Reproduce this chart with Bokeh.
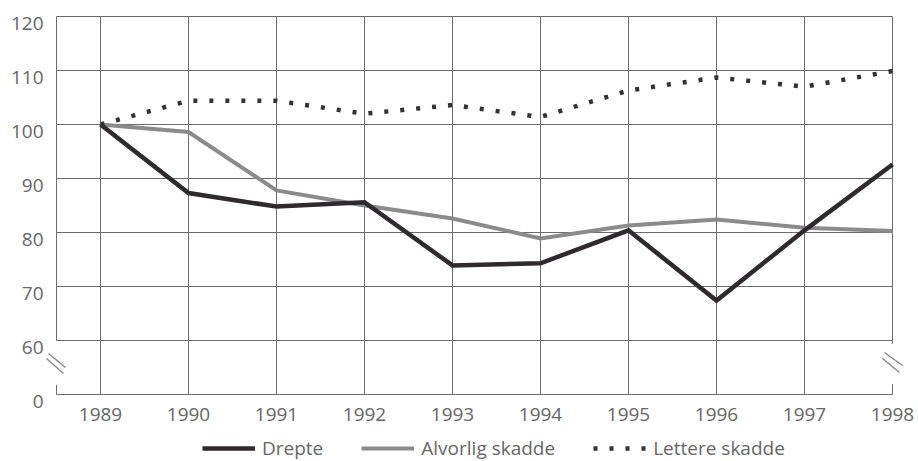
from bokeh.plotting import figure
from bokeh.models import (FixedTicker, Range1d, Legend, LegendItem, Arrow, ColumnDataSource)
from bokeh.core.properties import value
from bokeh.embed import file_html
from bokeh.resources import INLINE

# ---- data ----
years = [1989, 1990, 1991, 1992, 1993, 1994, 1995, 1996, 1997, 1998]
drepte = [100, 87.3, 84.8, 85.6, 73.9, 74.3, 80.4, 67.4, 80.4, 92.6]
alvorlig = [100, 98.6, 87.8, 85.0, 82.6, 78.9, 81.3, 82.4, 80.9, 80.3]
lettere = [100, 104.4, 104.4, 102.0, 103.6, 101.4, 106.3, 108.7, 107.0, 109.9]
series_names = ["Drepte", "Alvorlig skadde", "Lettere skadde"]
y_grid_values = [50, 60, 70, 80, 90, 100, 110, 120]      # 50 = the broken "0" baseline
y_tick_labels = ["0", "60", "70", "80", "90", "100", "110", "120"]
year_labels = [str(y) for y in years]

# ---- geometry ----
PX_X = 88.0      # px per year
PX_Y = 5.4       # px per index unit
x0 = years[0] - 0.5
x1 = years[-1]
y_base = 50
y_top = 120
W, H = 918, 461
LEFT, RIGHT, TOP = 45, 0, 15     # frame covers everything right of / below the borders

FONT = "Open Sans"
TXT = "#666666"
GRID = "#6c6c6c"

def px2x(px):
    return x0 + (px - 56) / PX_X
def px2y(py):
    return y_top - (py - 16) / PX_Y

p = figure(width=W, height=H, output_backend="svg", toolbar_location=None,
           x_axis_location=None,
           x_range=Range1d(px2x(LEFT), px2x(W - RIGHT)),
           y_range=Range1d(px2y(H), px2y(TOP)),
           min_border_left=LEFT, min_border_right=RIGHT, min_border_top=TOP, min_border_bottom=0)
p.outline_line_color = None
p.background_fill_color = "white"
p.border_fill_color = "white"
p.xgrid.visible = False
p.ygrid.visible = False

# horizontal grid lines
p.segment(x0=[x0] * len(y_grid_values), y0=y_grid_values,
          x1=[x1] * len(y_grid_values), y1=y_grid_values, line_color=GRID, line_width=1)
# vertical grid lines (full for interior years)
inner = years[:-1]
p.segment(x0=inner, y0=[y_base] * len(inner), x1=inner, y1=[y_top] * len(inner),
          line_color=GRID, line_width=1)
# left and right borders, broken near the bottom
p.segment(x0=[x0, x0, x1, x1], y0=[y_top, 51.8, y_top, 51.9],
          x1=[x0, x0, x1, x1], y1=[60, y_base, 59.4, y_base],
          line_color=GRID, line_width=1)

# y axis labels (hang below their grid line)
shift = 1.3
label_ticks = [v - shift for v in y_grid_values]
p.yaxis.ticker = FixedTicker(ticks=label_ticks)
p.yaxis.major_label_overrides = {t: l for t, l in zip(label_ticks, y_tick_labels)}
p.yaxis.axis_line_color = None
p.yaxis.major_tick_line_color = None
p.yaxis.minor_tick_line_color = None
p.yaxis.major_tick_out = 0
p.yaxis.major_tick_in = 0
p.yaxis.major_label_standoff = 2
p.yaxis.major_label_text_font = FONT
p.yaxis.major_label_text_font_size = "19px"
p.yaxis.major_label_text_color = TXT

# x tick labels (years under each grid line)
p.text(x=years, y=[px2y(414)] * len(years), text=year_labels,
       text_align="center", text_baseline="middle",
       text_font=value(FONT), text_font_size="19px", text_color=TXT)

# axis break marks
brk = dict(line_color="#8a8a8a", line_width=1.5, end=None)
for (ax, ay, bx, by) in [(48, 353, 65, 367), (46, 358, 63, 373),
                         (884, 352, 902, 365), (882, 358, 899, 372)]:
    p.add_layout(Arrow(x_start=px2x(ax), y_start=px2y(ay), x_end=px2x(bx), y_end=px2y(by), **brk))

src = ColumnDataSource(dict(year=years, drepte=drepte, alvorlig=alvorlig, lettere=lettere))
r_alv = p.line("year", "alvorlig", source=src, line_color="#8b8b8b", line_width=4, line_join="miter")
r_dre = p.line("year", "drepte", source=src, line_color="#2e2a2e", line_width=4.5, line_join="miter")
r_let = p.line("year", "lettere", source=src, line_color="#333333", line_width=4.5,
               line_dash="4 12", line_cap="butt")

legend = Legend(items=[LegendItem(label=series_names[0], renderers=[r_dre]),
                       LegendItem(label=series_names[1], renderers=[r_alv]),
                       LegendItem(label=series_names[2], renderers=[r_let])],
                orientation="horizontal", location=(202 - LEFT, 0),
                glyph_width=53, label_standoff=7, spacing=38, padding=0, margin=0,
                border_line_color=None, background_fill_alpha=0,
                label_text_font=FONT, label_text_font_size="19px", label_text_color=TXT)
p.add_layout(legend, "center")

open("out.html", "w").write(file_html(p, INLINE))
